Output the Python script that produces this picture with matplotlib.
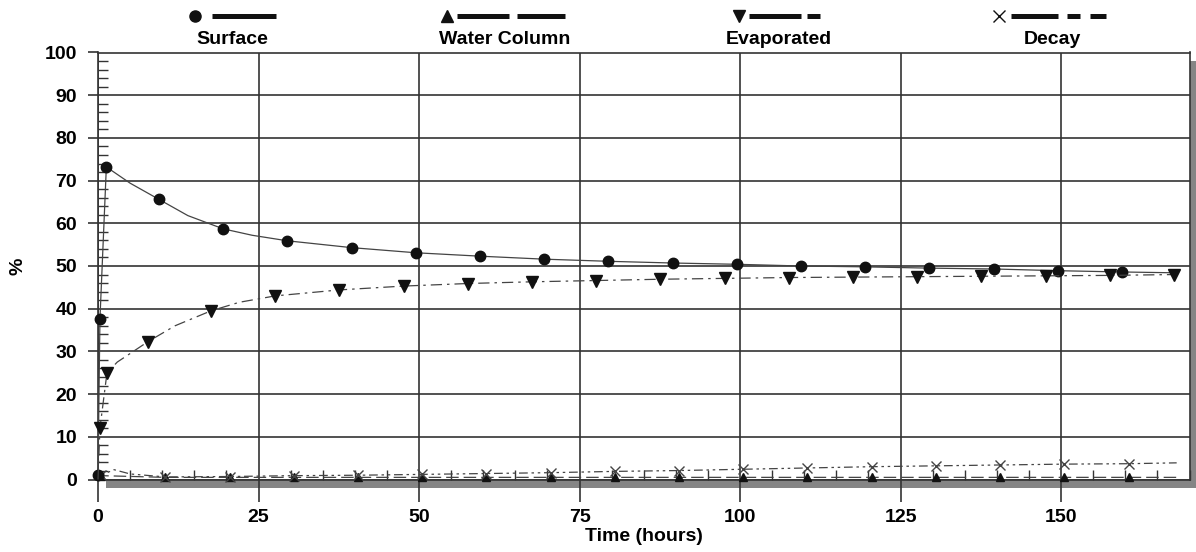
import matplotlib.pyplot as plt
from matplotlib.lines import Line2D
from matplotlib.patches import Rectangle
from matplotlib.ticker import MultipleLocator

plt.rcParams['font.family'] = ['Liberation Sans', 'DejaVu Sans']

# ---------- data ----------

surface_t = [0, 0.3, 1.3, 5, 9.5, 14, 19.5, 24, 29.5, 39.5, 49.5, 59.5, 69.5, 79.5,
             89.5, 99.5, 109.5, 119.5, 129.5, 139.5, 149.5, 159.5, 168]
surface_v = [1.0, 37.5, 73.2, 69.4, 65.6, 61.8, 58.7, 57.2, 55.9, 54.3, 53.1, 52.3, 51.6, 51.1,
             50.7, 50.4, 50.0, 49.8, 49.5, 49.3, 48.9, 48.6, 48.4]
surface_marks = [0, 1, 2, 4, 6, 8, 9, 10, 11, 12, 13, 14, 15, 16, 17, 18, 19, 20, 21]

evap_t = [0, 0.3, 1.4, 3, 7.8, 12, 17.6, 22, 27.6, 37.6, 47.6, 57.6, 67.6, 77.6, 87.6,
          97.6, 107.6, 117.6, 127.6, 137.6, 147.6, 157.6, 167.6]
evap_v = [0, 12.0, 25.0, 27.5, 32.3, 36.0, 39.5, 41.5, 43.0, 44.4, 45.3, 45.9, 46.3, 46.6, 46.9,
          47.1, 47.3, 47.4, 47.5, 47.6, 47.7, 47.8, 48.0]
evap_marks = [1, 2, 4, 6, 8, 9, 10, 11, 12, 13, 14, 15, 16, 17, 18, 19, 20, 21, 22]

water_t = [0, 0.5, 10.5, 20.5, 30.5, 40.5, 50.5, 60.5, 70.5, 80.5, 90.5, 100.5,
           110.5, 120.5, 130.5, 140.5, 150.5, 160.5, 168]
water_v = [0, 0.9, 0.5, 0.5, 0.5, 0.5, 0.5, 0.5, 0.5, 0.5, 0.5, 0.5,
           0.5, 0.5, 0.5, 0.5, 0.5, 0.5, 0.5]
water_marks = list(range(1, 18))

decay_t = [0, 0.5, 2.5, 5, 10.5, 20.5, 30.5, 40.5, 50.5, 60.5, 70.5, 80.5, 90.5, 100.5,
           110.5, 120.5, 130.5, 140.5, 150.5, 160.5, 168]
decay_v = [0, 1.0, 2.3, 1.3, 0.6, 0.7, 0.9, 1.0, 1.2, 1.4, 1.6, 1.9, 2.1, 2.4,
           2.7, 3.0, 3.2, 3.4, 3.6, 3.7, 3.9]
decay_marks = [1] + list(range(4, 20))

legend_names = ['Surface', 'Water Column', 'Evaporated', 'Decay']

# ---------- figure ----------

W, H = 1196, 552
fig = plt.figure(figsize=(W / 100, H / 100), dpi=100)
ax = fig.add_axes([98 / W, 1 - 479.5 / H, 1091.5 / W, 427 / H])

ink = '#111111'
line_c = '#444444'
ax.plot(surface_t, surface_v, color=line_c, lw=0.9, marker='o', ms=7.5, mfc=ink, mec=ink,
        markevery=surface_marks, clip_on=False, zorder=4)
ax.plot(evap_t, evap_v, color=line_c, lw=0.9, dashes=(9, 4, 2, 4), marker='v', ms=8.5,
        mfc=ink, mec=ink, markevery=evap_marks, clip_on=False, zorder=4)
ax.plot(water_t, water_v, color=line_c, lw=0.9, dashes=(10, 4), marker='^', ms=6,
        mfc=ink, mec=ink, markevery=water_marks, clip_on=False, zorder=3)
ax.plot(decay_t, decay_v, color=line_c, lw=0.9, dashes=(7, 3, 2, 3, 2, 3), marker='x', ms=7.5,
        mew=1, mec=line_c, markevery=decay_marks, clip_on=False, zorder=3)

ax.set_xlim(0, 170)
ax.set_ylim(0, 100)
ax.xaxis.set_major_locator(MultipleLocator(25))
ax.xaxis.set_minor_locator(MultipleLocator(5))
ax.yaxis.set_major_locator(MultipleLocator(10))
ax.yaxis.set_minor_locator(MultipleLocator(2))
ax.set_xticks([0, 25, 50, 75, 100, 125, 150])

ax.grid(True, which='major', color='#333333', lw=1.2)
ax.tick_params(axis='x', which='major', direction='out', length=16, width=1.2, color='#333333', pad=5)
ax.tick_params(axis='y', which='major', direction='out', length=7, width=1.2, color='#333333', pad=8)
ax.tick_params(which='minor', direction='in', length=7, width=1, color='#333333')
ax.tick_params(labelsize=14)
for lab in ax.get_xticklabels() + ax.get_yticklabels():
    lab.set_fontweight('bold')
for s in ax.spines.values():
    s.set_color('#333333')
    s.set_linewidth(1.2)

ax.set_xlabel('Time (hours)', fontsize=14, fontweight='bold', labelpad=2)
ax.set_ylabel('%', fontsize=14, fontweight='bold', labelpad=13)

# drop shadow under and right of the plot box
sx = 8.5 / 1091.5
sy = 8.5 / 427
ax.add_patch(Rectangle((8 / 1091.5, -sy), 1 - 8 / 1091.5 + sx, sy, transform=ax.transAxes,
                       color='#858585', lw=0, clip_on=False, zorder=1))
ax.add_patch(Rectangle((1, -sy), sx, 1 - 8 / 427 + sy, transform=ax.transAxes,
                       color='#858585', lw=0, clip_on=False, zorder=1))

# ---------- legend across the top ----------

def fx(px):
    return px / W

def fy(py):
    return 1 - py / H

legend_marker = ['o', '^', 'v', 'x']
legend_mx = [195, 447, 739, 999]
legend_segs = [[(212, 276)],
               [(457, 509), (517, 565)],
               [(749, 801), (807, 820)],
               [(1011, 1058), (1067, 1080), (1090, 1106)]]
legend_lx = [232, 505, 779, 1052]

for name, mk, mx, segs, lx in zip(legend_names, legend_marker, legend_mx, legend_segs, legend_lx):
    fig.add_artist(Line2D([fx(mx)], [fy(16)], marker=mk, ms=8,
                          mew=1, color=ink, ls='none'))
    for a, b in segs:
        fig.add_artist(Line2D([fx(a), fx(b)], [fy(16), fy(16)], color=ink, lw=3.6,
                              solid_capstyle='butt'))
    fig.text(fx(lx), fy(40), name, ha='center', va='center', fontsize=14, fontweight='bold')

fig.savefig('out.png', dpi=100)
